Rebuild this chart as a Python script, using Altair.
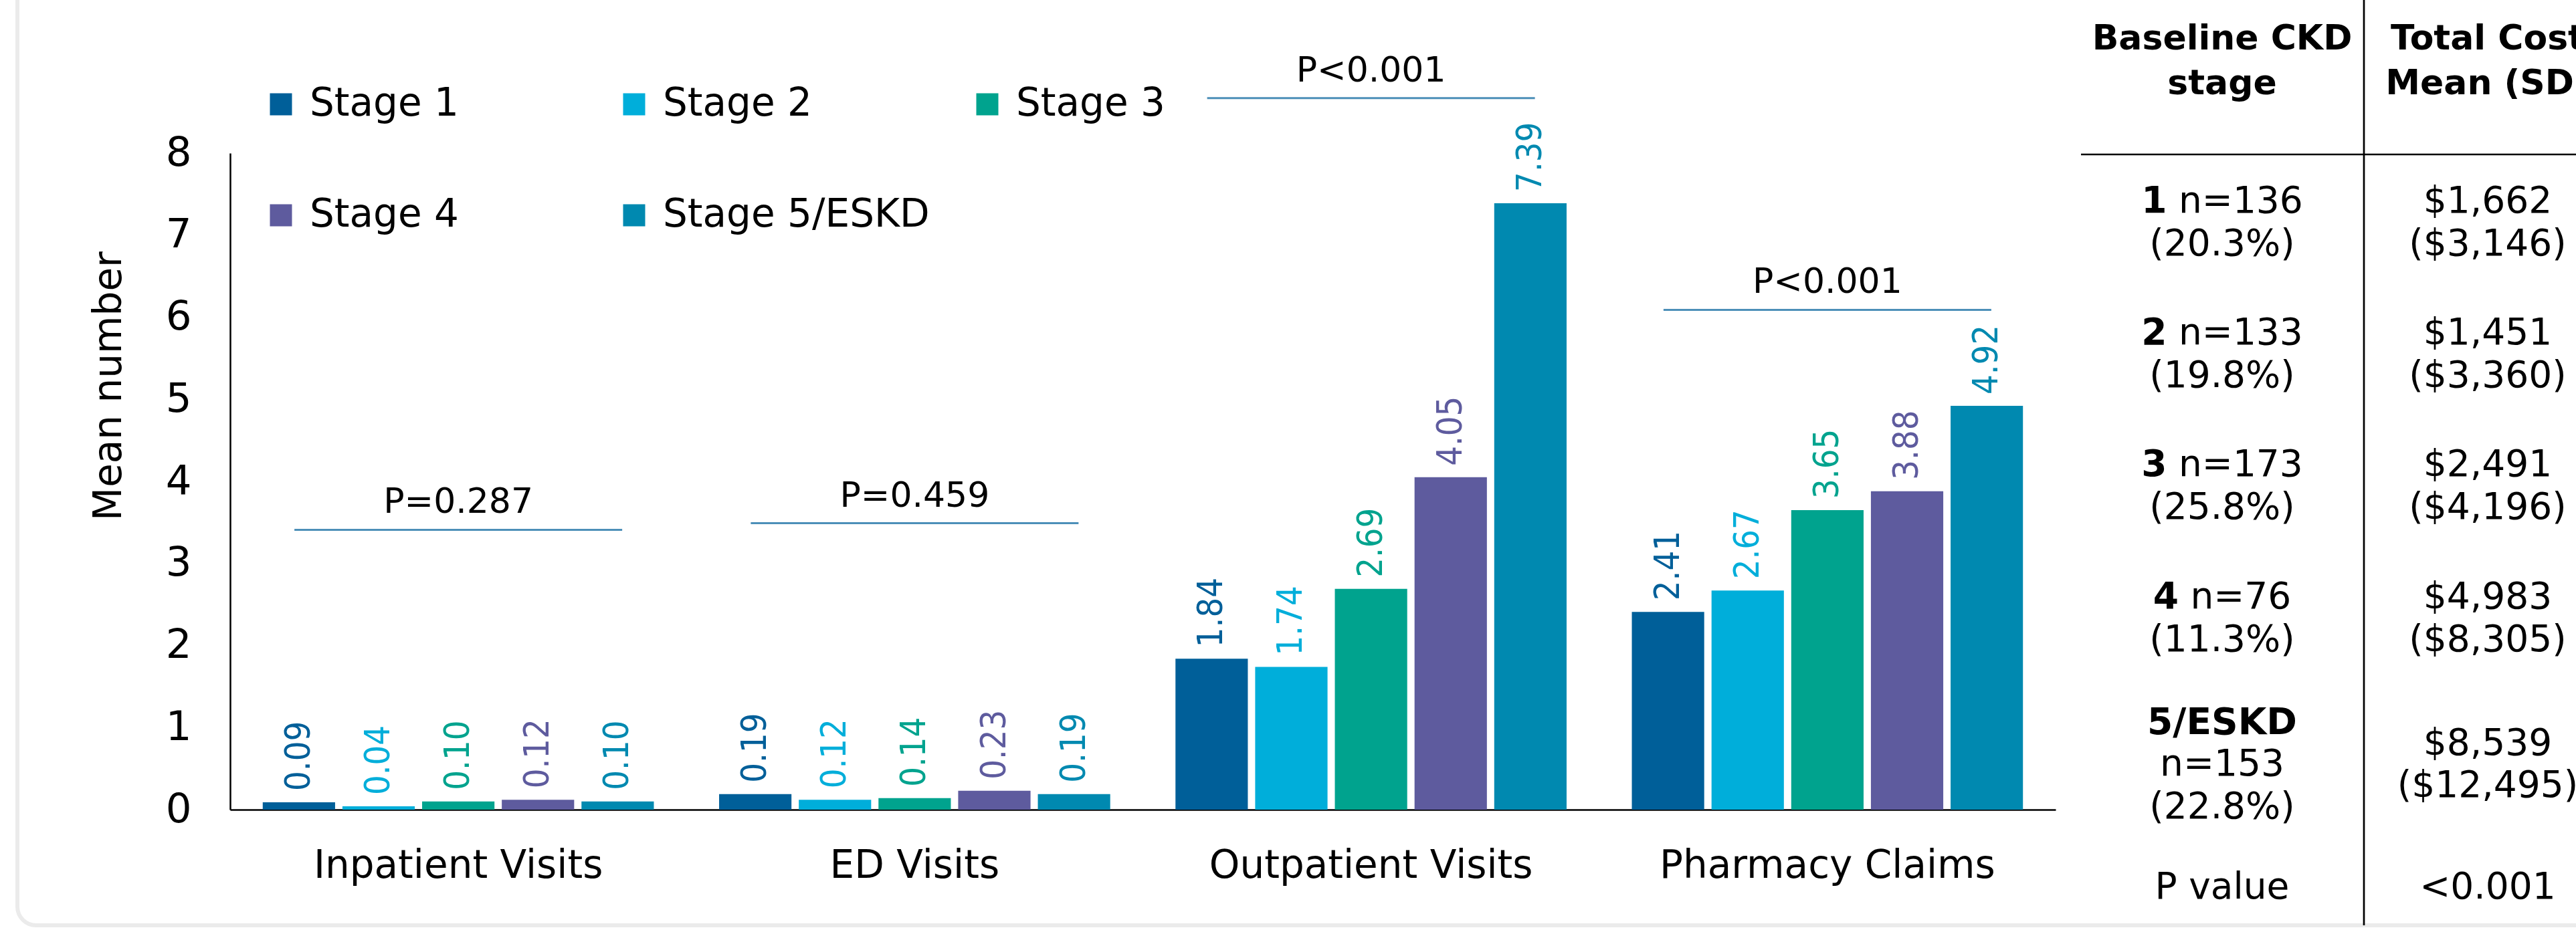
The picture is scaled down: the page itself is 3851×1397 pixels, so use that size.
import altair as alt
import pandas as pd

# ---------------- data ----------------
categories = ["Inpatient Visits", "ED Visits", "Outpatient Visits", "Pharmacy Claims"]
stages = ["Stage 1", "Stage 2", "Stage 3", "Stage 4", "Stage 5/ESKD"]
stage1 = [0.09, 0.19, 1.84, 2.41]
stage2 = [0.04, 0.12, 1.74, 2.67]
stage3 = [0.10, 0.14, 2.69, 3.65]
stage4 = [0.12, 0.23, 4.05, 3.88]
stage5 = [0.10, 0.19, 7.39, 4.92]
colors = ["#005F99", "#00AEDA", "#00A38E", "#5E5B9E", "#0089B0"]

p_labels = ["P=0.287", "P=0.459", "P<0.001", "P<0.001"]
p_line_level = [3.41, 3.49, 8.67, 6.09]

table_stage = ["1", "2", "3", "4", "5/ESKD"]
table_n = [136, 133, 173, 76, 153]
table_pct = ["20.3%", "19.8%", "25.8%", "11.3%", "22.8%"]
table_cost_mean = ["$1,662", "$1,451", "$2,491", "$4,983", "$8,539"]
table_cost_sd = ["$3,146", "$3,360", "$4,196", "$8,305", "$12,495"]
table_p_value = "<0.001"
table_head1 = ["Baseline CKD", "stage"]
table_head2 = ["Total Cost", "Mean (SD)"]

# ---------------- layout ----------------
CANVAS_W, CANVAS_H = 3851, 1397
X0, Y0 = 344, 229            # plot origin on canvas
PW, PH = 2729, 982           # plot size
FONT = "DejaVu Sans"
LABEL_FONT = "DejaVu Sans Condensed, Liberation Sans, DejaVu Sans"

series = [stage1, stage2, stage3, stage4, stage5]
rows = []
for s, vals in zip(stages, series):
    for c, v in zip(categories, vals):
        rows.append({"cat": c, "stage": s, "value": v, "label": f"{v:.2f}"})
bars_df = pd.DataFrame(rows)
p_df = pd.DataFrame({"cat": categories, "level": p_line_level, "label": p_labels})

x_enc = alt.X("cat:N", sort=categories,
              scale=alt.Scale(paddingInner=0.143, paddingOuter=0.0715),
              axis=alt.Axis(title=None, labelAngle=0, labelFontSize=58, labelFont=FONT,
                            labelColor="black", labelPadding=55, ticks=False, tickSize=0,
                            domainColor="black", domainWidth=2.5, labelLimit=1000))
xo_enc = alt.XOffset("stage:N", sort=stages,
                     scale=alt.Scale(paddingInner=0.092, paddingOuter=0))
y_enc = alt.Y("value:Q", scale=alt.Scale(domain=[0, 8], nice=False),
              axis=alt.Axis(values=list(range(9)), format="d", title="Mean number",
                            titleFontSize=58, titleFont=FONT, titleFontWeight="normal",
                            titleColor="black", titleX=-164, titleY=348, titleAngle=270,
                            titleAlign="center", titleBaseline="alphabetic",
                            labelFontSize=61, labelFont=FONT, labelColor="black",
                            labelPadding=58, ticks=False, tickSize=0, grid=False,
                            domainColor="black", domainWidth=2.5))
color_enc = alt.Color("stage:N", sort=stages,
                      scale=alt.Scale(domain=stages, range=colors),
                      legend=alt.Legend(title=None, orient="none", legendX=47, legendY=-102,
                                        direction="horizontal", columns=3, gridAlign="all",
                                        columnPadding=57, rowPadding=108,
                                        symbolType="square", symbolSize=1089,
                                        symbolStrokeWidth=0, symbolOpacity=1,
                                        labelFontSize=58, labelFont=FONT, labelColor="black",
                                        labelOffset=14, labelLimit=1000, padding=0))

bars = alt.Chart(bars_df).mark_bar().encode(x=x_enc, xOffset=xo_enc, y=y_enc, color=color_enc)
labels = alt.Chart(bars_df).mark_text(angle=270, align="left", baseline="middle", dx=17,
                                      fontSize=52, font=LABEL_FONT).encode(
    x=alt.X("cat:N", sort=categories), xOffset=alt.XOffset("stage:N", sort=stages),
    y="value:Q", text="label:N",
    color=alt.Color("stage:N", sort=stages, legend=None))
pticks = alt.Chart(p_df).mark_tick(thickness=3, size=490, color="#00609A").encode(
    x=alt.X("cat:N", sort=categories), y=alt.Y("level:Q"))
ptext = alt.Chart(p_df).mark_text(baseline="alphabetic", dy=-25, fontSize=52, font=FONT,
                                  color="black").encode(
    x=alt.X("cat:N", sort=categories), y=alt.Y("level:Q"), text="label:N")

main = alt.layer(bars, labels, pticks, ptext)

# ---------------- table ----------------
REG = {' ': 0.318, '(': 0.390, ')': 0.390, '%': 0.950, ',': 0.318, '.': 0.318, '$': 0.636,
       '<': 0.838, '=': 0.838, 'n': 0.634}
BOLD = {'/': 0.365, 'E': 0.683, 'S': 0.720, 'K': 0.775, 'D': 0.830}
for d in "0123456789":
    REG[d] = 0.636
    BOLD[d] = 0.696


def tw(s, tab, size):
    return sum(tab.get(ch, 0.62) for ch in s) * size


BODY = 55
HEAD = 52
C1, C2 = 3322, 3719
line1 = [318, 515, 712, 910, 1098]
GAP = 64
P_BASE = 1344

items = []  # text, tx, ty, kind
for t, yb in zip(table_head1, [74, 141]):
    items.append((t, C1, yb, "head"))
for t, yb in zip(table_head2, [74, 141]):
    items.append((t, C2, yb, "head"))
for i in range(5):
    b = table_stage[i]
    ntxt = f"n={table_n[i]}"
    ptxt = f"({table_pct[i]})"
    yb = line1[i]
    if i < 4:
        wb = tw(b, BOLD, BODY)
        ws = REG[' '] * BODY
        wr = tw(ntxt, REG, BODY)
        left = C1 - (wb + ws + wr) / 2
        items.append((b, left + wb, yb, "bold_right"))
        items.append((ntxt, left + wb + ws, yb, "reg_left"))
        items.append((ptxt, C1, yb + GAP, "reg"))
        items.append((table_cost_mean[i], C2, yb, "reg"))
        items.append((f"({table_cost_sd[i]})", C2, yb + GAP, "reg"))
    else:
        items.append((b, C1, yb, "bold"))
        items.append((ntxt, C1, yb + 62, "reg"))
        items.append((ptxt, C1, yb + 126, "reg"))
        items.append((table_cost_mean[i], C2, yb + 31, "reg"))
        items.append((f"({table_cost_sd[i]})", C2, yb + 94, "reg"))
items.append(("P value", C1, P_BASE, "reg"))
items.append((table_p_value, C2, P_BASE, "reg"))
tab_df = pd.DataFrame(items, columns=["text", "tx", "ty", "kind"])

tx = alt.X("tx:Q", axis=None, scale=alt.Scale(domain=[0, CANVAS_W], range=[-X0, CANVAS_W - X0],
                                              nice=False, zero=False))
ty = alt.Y("ty:Q", axis=None, scale=alt.Scale(domain=[0, CANVAS_H], range=[-Y0, CANVAS_H - Y0],
                                              nice=False, zero=False))


def tlayer(kind, **kw):
    return alt.Chart(tab_df).transform_filter(alt.datum.kind == kind).mark_text(
        baseline="alphabetic", font=FONT, color="black", **kw).encode(x=tx, y=ty, text="text:N")


table = alt.layer(
    tlayer("head", align="center", fontSize=HEAD, fontWeight="bold"),
    tlayer("bold", align="center", fontSize=BODY, fontWeight="bold"),
    tlayer("bold_right", align="right", fontSize=BODY, fontWeight="bold"),
    tlayer("reg_left", align="left", fontSize=BODY),
    tlayer("reg", align="center", fontSize=BODY),
)

one = pd.DataFrame({"a": [0]})
hline = alt.Chart(one).mark_rule(color="black", strokeWidth=2.7).encode(
    x=alt.value(3111 - X0), x2=alt.value(CANVAS_W - X0 + 10), y=alt.value(231 - Y0))
vline = alt.Chart(one).mark_rule(color="black", strokeWidth=2.7).encode(
    x=alt.value(3534 - X0), y=alt.value(-Y0), y2=alt.value(1384 - Y0))
frame = alt.Chart(one).mark_rect(fill="#ffffff", fillOpacity=0, stroke="#EBEBEB",
                                 strokeWidth=6, cornerRadius=28).encode(
    x=alt.value(26 - X0), x2=alt.value(CANVAS_W + 400), y=alt.value(-700), y2=alt.value(1384 - Y0))

chart = alt.layer(frame, main, table, hline, vline).resolve_scale(
    x="independent", y="independent"
).properties(
    width=PW, height=PH,
    autosize=alt.AutoSizeParams(type="none"),
    padding={"left": X0, "top": Y0, "right": CANVAS_W - X0 - PW, "bottom": CANVAS_H - Y0 - PH},
    background="white",
).configure_view(stroke=None)

chart.save("out.html", embed_options={"renderer": "svg", "actions": False})
